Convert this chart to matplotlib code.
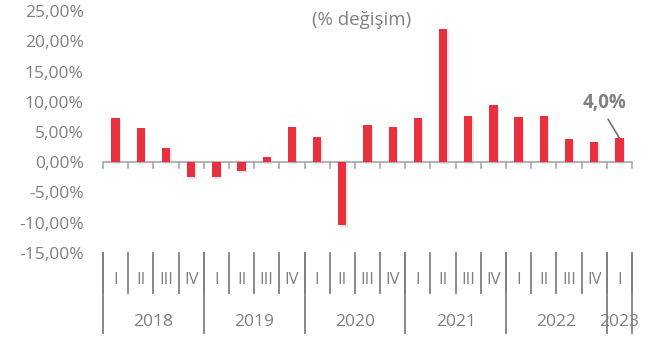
import matplotlib.pyplot as plt
import matplotlib.patheffects as pe
from matplotlib.transforms import blended_transform_factory

# quarterly change, %
quarters = ['I', 'II', 'III', 'IV'] * 5 + ['I']
years = ['2018', '2019', '2020', '2021', '2022', '2023']
year_sizes = [4, 4, 4, 4, 4, 1]
values = [7.3, 5.6, 2.3, -2.5, -2.4, -1.5, 0.9, 5.8,
          4.1, -10.3, 6.1, 5.9, 7.3, 22.0, 7.6, 9.4,
          7.4, 7.6, 3.8, 3.3, 4.0]
yticks = [-15, -10, -5, 0, 5, 10, 15, 20, 25]

red = '#E8303F'
gray = '#808080'
linegray = '#a6a6a6'

plt.rcParams['font.family'] = ['Open Sans', 'DejaVu Sans']

fig = plt.figure(figsize=(6.52, 3.41), dpi=100)
ax = fig.add_axes([103 / 652, (341 - 253) / 341, 529 / 652, 242 / 341])

n = len(values)
x = list(range(n))
bars = ax.bar(x, values, width=0.33, color=red, zorder=3)
for b in bars:
    b.set_path_effects([pe.SimplePatchShadow(offset=(1, -1.5), shadow_rgbFace='#b0b0b0', alpha=0.3),
                        pe.Normal()])

ax.set_xlim(-0.5, n - 0.5)
ax.set_ylim(-15, 25)
ax.set_yticks(yticks)
ax.set_yticklabels([f'{v:.2f}'.replace('.', ',') + '%' for v in yticks],
                   color=gray, fontsize=12.5)
ax.tick_params(axis='y', length=0, pad=14)
for s in ['left', 'right', 'top', 'bottom']:
    ax.spines[s].set_visible(False)

# zero line with boundary ticks
ax.axhline(0, color=linegray, lw=1.2, zorder=2)
ax.set_xticks([])
for i in range(n + 1):
    ax.plot([i - 0.5, i - 0.5], [0, -0.9], color=linegray, lw=1.2, zorder=2, clip_on=False)

# multi-level category axis below the plot
tr = blended_transform_factory(ax.transData, ax.transAxes)
q_bot = -40 / 242
y_bot = -80 / 242
for i in range(n + 1):
    ax.plot([i - 0.5, i - 0.5], [0, q_bot], color=gray, lw=1.3, transform=tr, clip_on=False)
for i, q in enumerate(quarters):
    ax.text(i, -27 / 242, q, transform=tr, ha='center', va='center', color=gray, fontsize=12)

start = 0
for yr, size in zip(years, year_sizes):
    ax.plot([start - 0.5, start - 0.5], [0, y_bot], color=gray, lw=1.3, transform=tr, clip_on=False)
    ax.text(start + (size - 1) / 2, -69 / 242, yr, transform=tr, ha='center', va='center',
            color=gray, fontsize=12.5)
    start += size
ax.plot([start - 0.5, start - 0.5], [0, y_bot], color=gray, lw=1.3, transform=tr, clip_on=False)

# last value callout
ax.annotate('4,0%', xy=(n - 1, values[-1]), xytext=(n - 1.6, 9.8),
            ha='center', va='center', color=gray, fontsize=13.5, fontweight='bold',
            arrowprops=dict(arrowstyle='-', color='#707070', lw=1.2, shrinkA=3, shrinkB=0,
                            relpos=(0.5, 0)))

fig.text(362 / 652, 1 - 20 / 341, '(% değişim)', ha='center', va='center', color=gray, fontsize=13.5)

fig.savefig('out.png', dpi=100)
